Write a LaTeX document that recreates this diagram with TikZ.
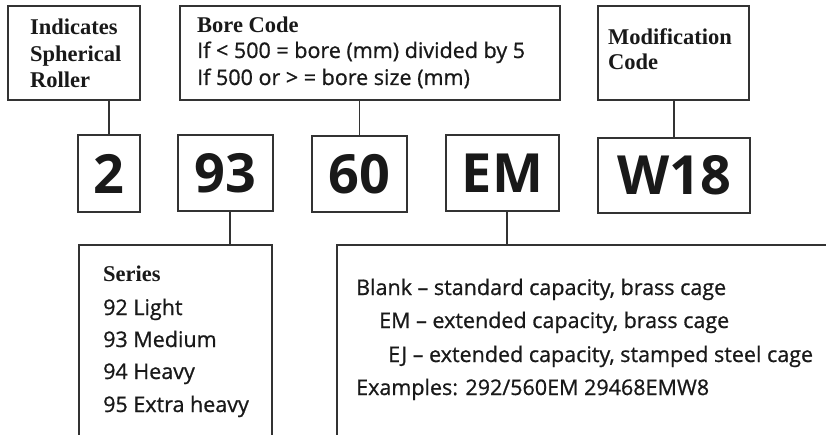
\documentclass[tikz,border=0pt]{standalone}
\usepackage{fontspec}
\setmainfont{Liberation Serif}
\newfontfamily\labelsans{Open Sans}
\newfontfamily\labelsansm{Open Sans}[FakeBold=0.8]
\begin{document}
\begin{tikzpicture}[x=1pt,y=-1pt,
  line/.style={draw=black!80, line width=1.3pt},
  box/.style={line, fill=white, inner sep=0pt},
  digitbox/.style={box, font=\labelsans\bfseries\fontsize{54}{54}\selectfont, text=black!90},
  serifhead/.style={inner sep=0pt, anchor=base west, align=left, text=black!90,
    font=\bfseries\fontsize{22.5}{27}\selectfont},
  sanstext/.style={inner sep=0pt, anchor=base west, text=black!90,
    font=\labelsansm\fontsize{21.5}{26}\selectfont}]
\useasboundingbox (0,0) rectangle (826,435);
% top boxes
\node[box, minimum width=132pt, minimum height=94pt] (ind) at (74,53) {};
\node[serifhead] (indt1) at (30,35) {Indicates};
\node[serifhead] (indt2) at (30,62) {Spherical};
\node[serifhead] (indt3) at (30,88) {Roller};
\node[box, minimum width=380pt, minimum height=94pt] (bore) at (370,53) {};
\node[serifhead] (boret) at (197,33) {Bore Code};
\node[sanstext] (bore1) at (197,58) {If < 500 = bore (mm) divided by 5};
\node[sanstext] (bore2) at (197,85) {If 500 or > = bore size (mm)};
\node[box, minimum width=151pt, minimum height=94pt] (mod) at (673.5,53) {};
\node[serifhead] (modt1) at (608,45) {Modification};
\node[serifhead] (modt2) at (608,70) {Code};
% code boxes
\node[digitbox, minimum width=62pt, minimum height=77pt] (c2) at (109,173.5) {2};
\node[digitbox, minimum width=95pt, minimum height=76pt] (c93) at (225.5,173) {93};
\node[digitbox, minimum width=95pt, minimum height=76pt] (c60) at (359.5,174) {60};
\node[digitbox, minimum width=113pt, minimum height=76pt] (cem) at (502.5,173) {EM};
\node[digitbox, minimum width=152pt, minimum height=75pt] (cw) at (674,175.5) {W18};
% connectors
\draw[line] (ind.south -| c2.north) -- (c2.north);
\draw[line] (bore.south -| c60.north) -- (c60.north);
\draw[line] (mod.south -| cw.north) -- (cw.north);
\coordinate (s93) at (230,245);
\coordinate (sem) at (507,245);
\draw[line] (c93.south -| s93) -- (s93);
\draw[line] (cem.south -| sem) -- (sem);
% lower open boxes
\draw[line] (79,436) -- (79,245) -- (272,245) -- (272,436);
\draw[line] (337,436) -- (337,245) -- (827,245);
\node[serifhead] (sert) at (103,282) {Series};
\node[sanstext] (s1) at (103,315) {92 Light};
\node[sanstext] (s2) at (103,347) {93 Medium};
\node[sanstext] (s3) at (103,379) {94 Heavy};
\node[sanstext] (s4) at (103,412) {95 Extra heavy};
\node[sanstext] (m1) at (356,295) {Blank – standard capacity, brass cage};
\node[sanstext] (m2) at (379,328) {EM – extended capacity, brass cage};
\node[sanstext] (m3) at (388,362) {EJ – extended capacity, stamped steel cage};
\node[sanstext] (m4) at (356,395) {Examples: 292/560EM 29468EMW8};
\end{tikzpicture}
\end{document}
